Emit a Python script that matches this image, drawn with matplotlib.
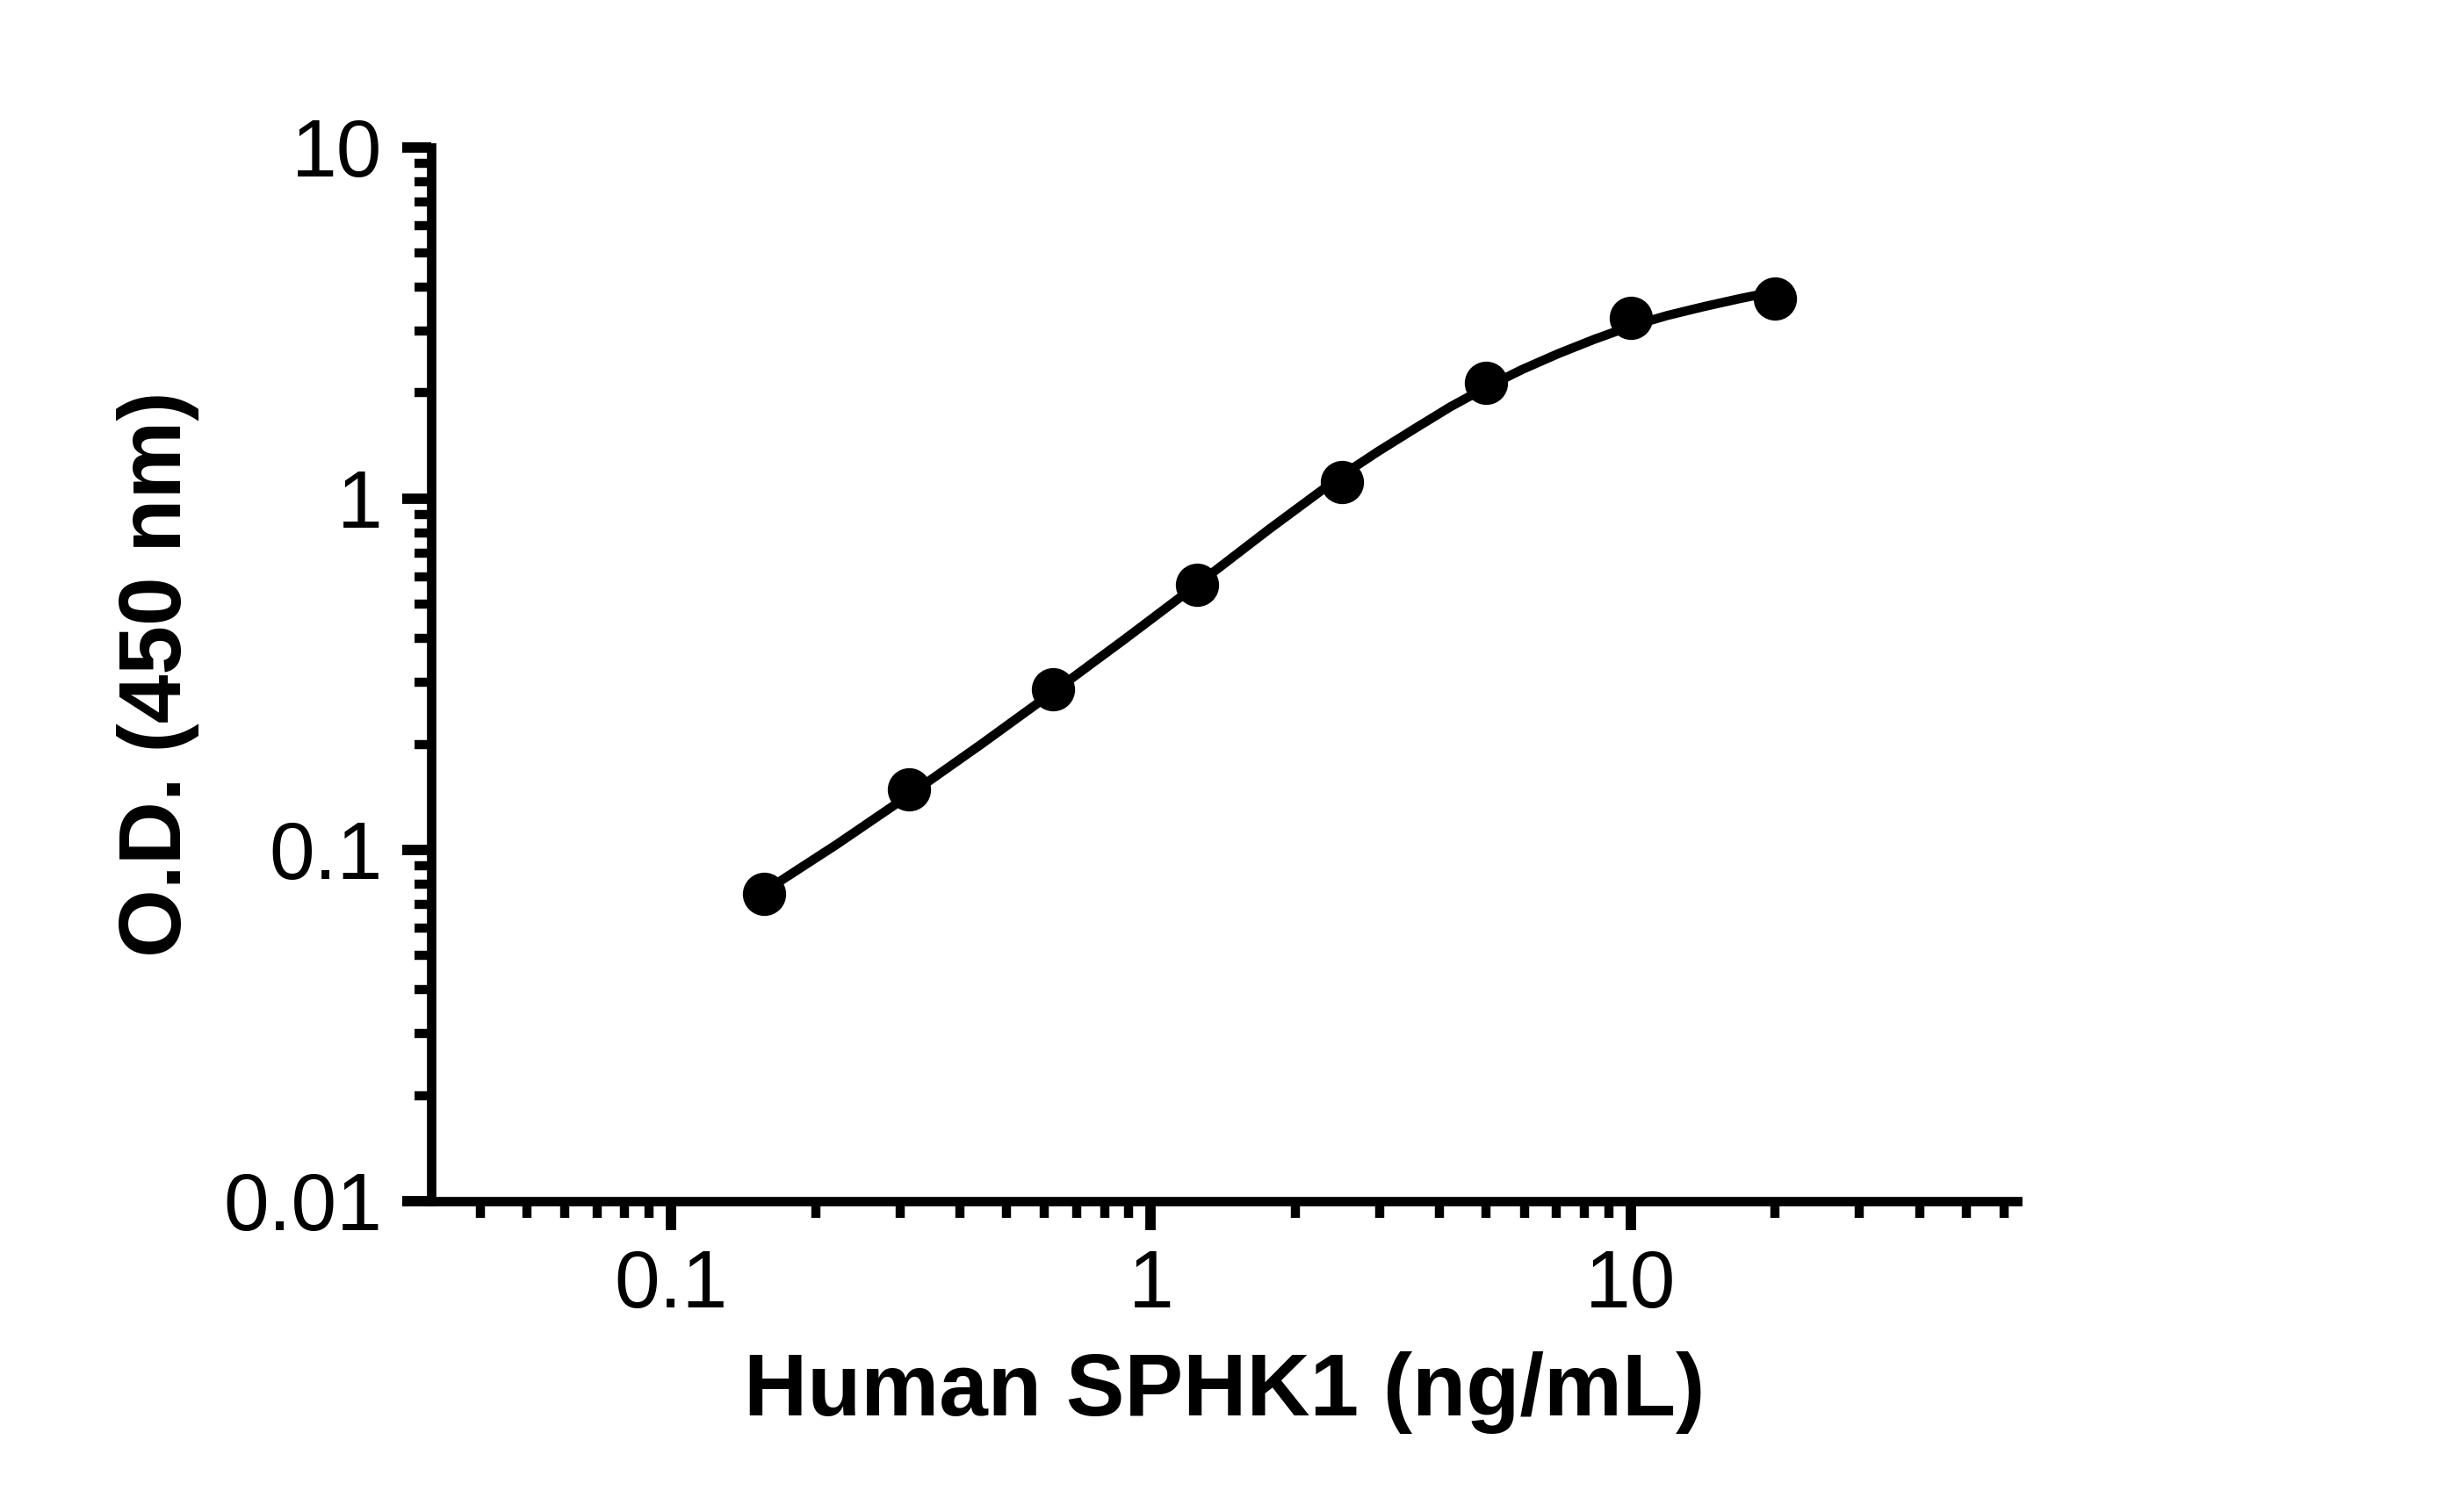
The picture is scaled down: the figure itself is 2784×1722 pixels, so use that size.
import numpy as np
import matplotlib
matplotlib.use('Agg')
import matplotlib.pyplot as plt
from matplotlib.ticker import FixedLocator, LogLocator, NullFormatter, FixedFormatter

plt.rcParams['font.family'] = ['Liberation Sans', 'DejaVu Sans']

# standard concentrations (ng/mL) and measured O.D.
conc = [0.156, 0.3125, 0.625, 1.25, 2.5, 5, 10, 20]
od = [0.075, 0.149, 0.286, 0.567, 1.116, 2.14, 3.27, 3.72]

# fitted curve
curve_x = [0.156, 0.221, 0.3125, 0.442, 0.625, 0.884, 1.25, 1.768, 2.5, 2.972, 3.536,
           4.204, 5, 5.946, 7.07, 8.41, 10, 11.89, 14.14, 16.82, 20]
curve_y = [0.0760, 0.1035, 0.1429, 0.1995, 0.2812, 0.3990, 0.5702, 0.8204, 1.164, 1.361, 1.578,
           1.824, 2.075, 2.333, 2.588, 2.844, 3.097, 3.319, 3.516, 3.707, 3.890]

x_ticks = [0.1, 1, 10]
x_ticklabels = ['0.1', '1', '10']
y_ticks = [0.01, 0.1, 1, 10]
y_ticklabels = ['0.01', '0.1', '1', '10']

fig = plt.figure(figsize=(27.84, 17.22), dpi=100)
ax = fig.add_axes([0.1764, 0.2056, 0.6487, 0.6969])

ax.plot(curve_x, curve_y, color='black', lw=7.5, solid_capstyle='butt',
        solid_joinstyle='round', zorder=2)
ax.plot(conc, od, 'o', color='black', ms=34.5, zorder=3)

ax.set_xscale('log')
ax.set_yscale('log')
ax.set_xlim(10 ** -1.5, 64)
ax.set_ylim(0.01, 10)

ax.xaxis.set_major_locator(FixedLocator(x_ticks))
ax.xaxis.set_major_formatter(FixedFormatter(x_ticklabels))
ax.xaxis.set_minor_locator(LogLocator(base=10, subs=range(2, 10), numticks=20))
ax.xaxis.set_minor_formatter(NullFormatter())
ax.yaxis.set_major_locator(FixedLocator(y_ticks))
ax.yaxis.set_major_formatter(FixedFormatter(y_ticklabels))
ax.yaxis.set_minor_locator(LogLocator(base=10, subs=range(2, 10), numticks=20))
ax.yaxis.set_minor_formatter(NullFormatter())

for side in ['top', 'right']:
    ax.spines[side].set_visible(False)
for side in ['left', 'bottom']:
    ax.spines[side].set_linewidth(7.7)
    ax.spines[side].set_capstyle('projecting')

ax.tick_params(which='major', direction='out', length=24, width=8.5, labelsize=67, pad=15)
ax.tick_params(which='minor', direction='out', length=13.5, width=7.5)
ax.tick_params(axis='y', which='major', pad=16)

ax.set_xlabel('Human SPHK1 (ng/mL)', fontsize=72, fontweight='bold', labelpad=22)
ax.set_ylabel('O.D. (450 nm)', fontsize=72, fontweight='bold', labelpad=20)

fig.savefig('out.png', dpi=100)
